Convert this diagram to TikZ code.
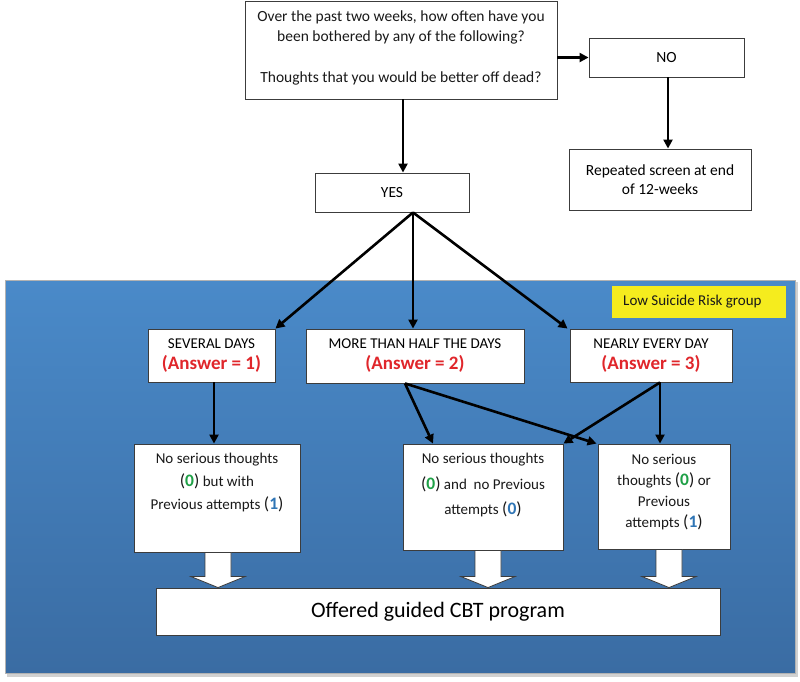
\documentclass[tikz,border=0pt]{standalone}
\usepackage{fontspec}
\setmainfont{Carlito}
\usetikzlibrary{arrows.meta,calc}
\definecolor{panelTop}{RGB}{74,138,201}
\definecolor{panelBot}{RGB}{58,108,163}
\definecolor{ansred}{RGB}{224,38,43}
\definecolor{zgreen}{RGB}{30,160,70}
\definecolor{oblue}{RGB}{47,117,181}
\definecolor{yel}{RGB}{245,236,30}
\definecolor{boxline}{RGB}{60,60,60}
\newcommand\numG[1]{{\fontsize{17.5}{17.5}\selectfont(\textbf{\color{zgreen}#1})}}
\newcommand\numB[1]{{\fontsize{17.5}{17.5}\selectfont(\textbf{\color{oblue}#1})}}
\newcommand\ans[1]{{\fontsize{19}{21}\selectfont\bfseries\color{ansred}(Answer = #1)}}
\tikzset{
  box/.style={draw=boxline, line width=0.9pt, fill=white, inner sep=0pt, align=center},
  txt/.style={inner sep=0pt, align=center, text=black!90},
  arr/.style={draw=black, line width=2.6pt, -{Triangle[length=9pt,width=9pt]}},
  blockarr/.style={draw=boxline, line width=0.8pt, fill=white, line join=miter}
}
\newcommand\blockarrow[2]{%
  \draw[blockarr] ($(#1.south)+(#2-13,0)$) -- ($(#1.south |- cbt.north)+(#2-13,-11)$)
    -- ($(#1.south |- cbt.north)+(#2-27,-11)$) -- ($(#1.south |- cbt.north)+(#2,0)$)
    -- ($(#1.south |- cbt.north)+(#2+27,-11)$) -- ($(#1.south |- cbt.north)+(#2+13,-11)$)
    -- ($(#1.south)+(#2+13,0)$) -- cycle;}
\begin{document}
\begin{tikzpicture}[x=1pt,y=-1pt]
\useasboundingbox (0,0) rectangle (800,681);
\fill[white] (0,0) rectangle (800,681);
% panel with shadow
\fill[black!18] (7,282) rectangle (798,677);
\shade[top color=panelTop, bottom color=panelBot, draw=black!30, line width=0.6pt] (5,280) rectangle (795,673);
% top part
\node[box, minimum width=312, minimum height=98] (q) at (401,50) {};
\node[txt, font=\fontsize{15.5}{20.5}\selectfont] (qt) at (401,48)
  {Over the past two weeks, how often have you\\been bothered by any of the following?\\[20.5pt]Thoughts that you would be better off dead?};
\node[box, minimum width=155, minimum height=39, font=\fontsize{15.5}{17}\selectfont] (no) at (666.5,57.5) {NO};
\node[box, minimum width=182, minimum height=61, font=\fontsize{15.5}{18.5}\selectfont] (rep) at (660,179.5) {Repeated screen at end\\of 12-weeks};
\node[box, minimum width=154, minimum height=39, font=\fontsize{15.5}{17}\selectfont] (yes) at (392,192.5) {YES};
% yellow label
\node[fill=yel, minimum width=174, minimum height=32, inner sep=0pt] (lbl) at (699,302) {};
\node[txt, anchor=west, font=\fontsize{15}{16}\selectfont] (lblt) at (623,302) {Low Suicide Risk group};
% answer boxes
\node[box, minimum width=127, minimum height=53, font=\fontsize{15}{21}\selectfont] (sev) at (211.5,355.5) {SEVERAL DAYS\\\ans{1}};
\node[box, minimum width=218, minimum height=54, font=\fontsize{15}{21}\selectfont] (half) at (415,356) {MORE THAN HALF THE DAYS\\\ans{2}};
\node[box, minimum width=162, minimum height=53, font=\fontsize{15}{21}\selectfont] (near) at (651,355.5) {NEARLY EVERY DAY\\\ans{3}};
% outcome boxes
\node[box, minimum width=166, minimum height=108] (A) at (217,498) {};
\node[txt, font=\fontsize{15}{23}\selectfont] (At) at (217,482) {No serious thoughts\\\numG{0} but with\\Previous attempts \numB{1}};
\node[box, minimum width=160, minimum height=106] (B) at (483,497) {};
\node[txt, font=\fontsize{15}{25.5}\selectfont] (Bt) at (483,485) {No serious thoughts\\\numG{0} and~ no Previous\\attempts \numB{0}};
\node[box, minimum width=132, minimum height=105] (C) at (664,496.5) {};
\node[txt, font=\fontsize{15}{21}\selectfont] (Ct) at (664,492.5) {No serious\\thoughts \numG{0} or\\Previous\\attempts \numB{1}};
% final box
\node[box, minimum width=564, minimum height=47, font=\fontsize{22}{24}\selectfont] (cbt) at (438,611.5) {Offered guided CBT program};
% arrows
\draw[arr] ([xshift=2]q.south) -- ([xshift=2]q.south |- yes.north);
\draw[arr] (q.east |- no.west) -- (no.west);
\draw[arr] ([xshift=1.5]no.south) -- ([xshift=1.5]no.south |- rep.north);
\draw[arr] ([xshift=21]yes.south) -- (sev.north east);
\draw[arr] ([xshift=21]yes.south) -- ([xshift=21]yes.south |- half.north);
\draw[arr] ([xshift=21]yes.south) -- ([xshift=-2]near.north west);
\draw[arr] ([xshift=2.5]sev.south) -- ([xshift=2.5]sev.south |- A.north);
\draw[arr] ([xshift=-10]half.south) -- ([xshift=-50]B.north);
\draw[arr] ([xshift=-10]half.south) -- ([xshift=-1]C.north west);
\draw[arr] ([xshift=9]near.south) -- (B.north east);
\draw[arr] ([xshift=9]near.south) -- ([xshift=9]near.south |- C.north);
% block arrows
\blockarrow{A}{1}
\blockarrow{B}{5}
\blockarrow{C}{5}
\end{tikzpicture}
\end{document}
